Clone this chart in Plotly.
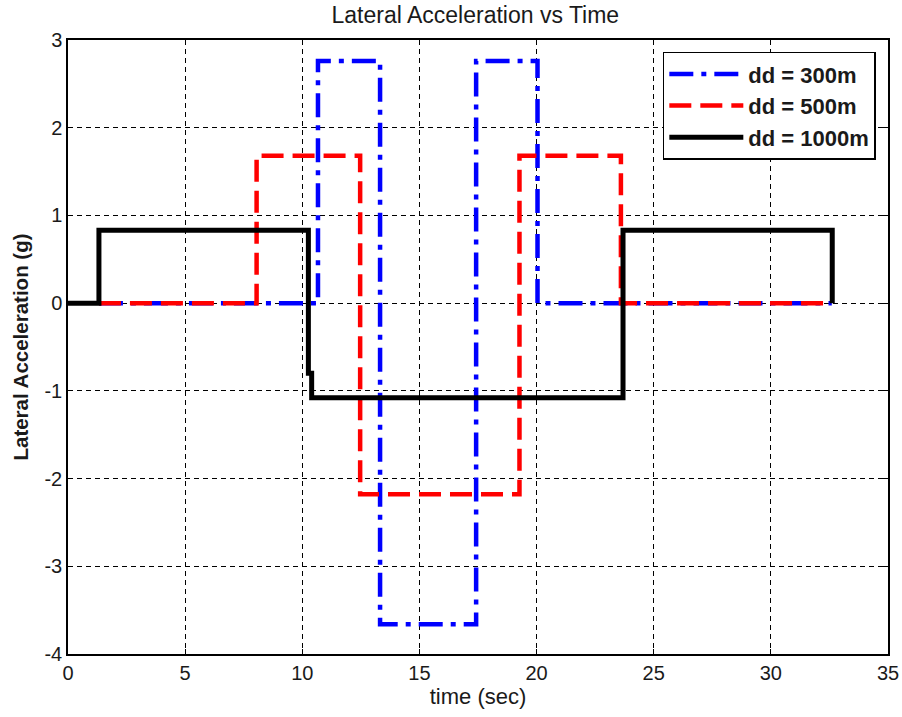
import plotly.graph_objects as go

# Switching times (s) and lateral acceleration levels (g) for each look-ahead distance
t_300 = [1.32, 10.67, 13.32, 17.42, 20.04, 32.60]
a_300 = [0.0, 2.76, -3.66, 2.76, 0.0, 0.0]

t_500 = [1.32, 8.05, 12.47, 19.27, 23.60, 32.60]
a_500 = [0.0, 1.68, -2.18, 1.68, 0.0, 0.0]

t_1000 = [0.0, 1.32, 10.26, 10.40, 23.69, 32.62]
a_1000 = [0.0, 0.83, -0.80, -1.08, 0.83, 0.0]

x_ticks = [0, 5, 10, 15, 20, 25, 30, 35]
y_ticks = [-4, -3, -2, -1, 0, 1, 2, 3]
y_tick_text = ["-4", "-3", "-2", "-1", "0", "1", "2", "3"]

FONT = "Arial, Liberation Sans, sans-serif"

fig = go.Figure()
fig.add_trace(go.Scatter(
    x=t_300, y=a_300, mode="lines", name="dd = 300m", line_shape="hv",
    line=dict(color="#0000ff", width=4.5, dash="24px,8px,5px,8px"),
))
fig.add_trace(go.Scatter(
    x=t_500, y=a_500, mode="lines", name="dd = 500m", line_shape="hv",
    line=dict(color="#ff0000", width=4.5, dash="22px,9px"),
))
fig.add_trace(go.Scatter(
    x=t_1000, y=a_1000, mode="lines", name="dd = 1000m", line_shape="hv",
    line=dict(color="#000000", width=5),
))

axis_common = dict(
    showline=True, linecolor="black", linewidth=1.5, mirror="ticks",
    showgrid=True, gridcolor="black", gridwidth=1, griddash="5px,4px",
    zeroline=False, ticks="inside", ticklen=5, tickcolor="black",
    automargin=False,
    tickfont=dict(family=FONT, size=20, color="#1a1a1a"),
)

fig.update_layout(
    width=902, height=717,
    margin=dict(l=68, r=14, t=40, b=63),
    paper_bgcolor="white", plot_bgcolor="white",
    title=dict(text="Lateral Acceleration vs Time", x=0.527, xanchor="center",
               y=0.979, yanchor="middle",
               font=dict(family=FONT, size=23, color="#1a1a1a")),
    xaxis=dict(range=[0, 35], tickvals=x_ticks,
               title=dict(text="time (sec)", standoff=4,
                          font=dict(family=FONT, size=22, color="#1a1a1a")),
               **axis_common),
    yaxis=dict(range=[-4, 3], tickvals=y_ticks, ticktext=y_tick_text,
               title=dict(text="<b>Lateral Acceleration (g)</b>", standoff=10,
                          font=dict(family=FONT, size=20.5, color="#1a1a1a")),
               **axis_common),
    legend=dict(x=0.7254, y=0.981, xanchor="left", yanchor="top",
                bgcolor="white", bordercolor="black", borderwidth=1.5,
                font=dict(family=FONT, size=22, color="#1a1a1a", weight="bold"),
                itemwidth=74),
    showlegend=True,
)

fig.write_html("out.html")
